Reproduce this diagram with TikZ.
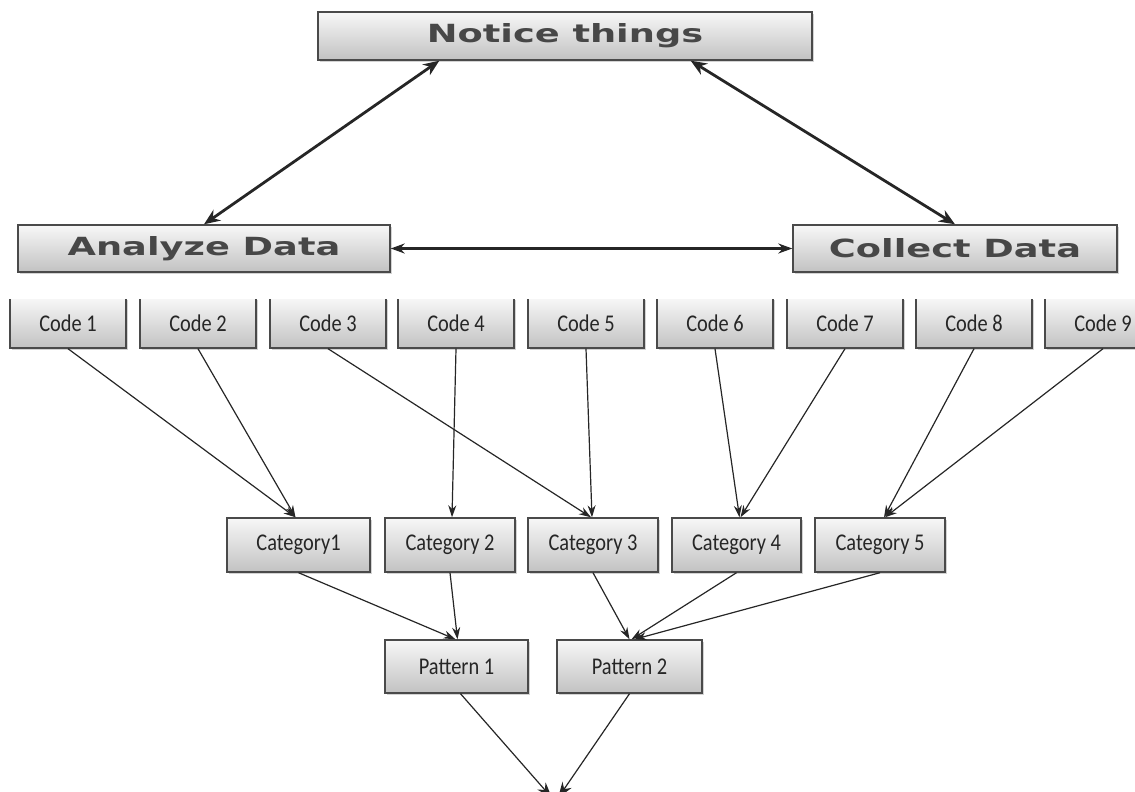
\documentclass[tikz,border=0pt]{standalone}
\usepackage{fontspec}
\usepackage{graphicx}
\usetikzlibrary{arrows.meta,shadows}
\newfontfamily\bigfont{DejaVu Sans Bold}
\newfontfamily\smallfont[FakeStretch=0.85]{Carlito}
\definecolor{boxline}{HTML}{4A4A4A}
\definecolor{boxtext}{HTML}{383838}
\tikzset{
  graybox/.style={draw=boxline, line width=1.4pt, top color=gray!6, bottom color=gray!48,
    drop shadow={shadow xshift=1.5pt, shadow yshift=-2pt, opacity=0.35},
    inner sep=0pt, text=boxtext},
  bigbox/.style={graybox, font=\bigfont\fontsize{25}{28}\selectfont, text=black!72},
  smallbox/.style={graybox, font=\smallfont\fontsize{24}{28}\selectfont, text=black!85},
  bigarrow/.style={{Stealth[length=16pt,width=13pt]}-{Stealth[length=16pt,width=13pt]}, line width=2.8pt, draw=black!85},
  midarrow/.style={{Stealth[length=14pt,width=10pt]}-{Stealth[length=14pt,width=10pt]}, line width=2.2pt, draw=black!85},
  thinarrow/.style={-{Stealth[length=12pt,width=8pt]}, line width=1.2pt, draw=black!85},
}
\begin{document}
\begin{tikzpicture}[x=1pt,y=-1pt]
\useasboundingbox (0,0) rectangle (1135,792);
\clip (0,0) rectangle (1135,792);
% top level
\node[bigbox, minimum width=494pt, minimum height=48pt] (notice) at (565,36) {\scalebox{1.47}[1]{Notice things}};
\node[bigbox, minimum width=372pt, minimum height=47pt] (analyze) at (204,248.5) {\scalebox{1.47}[1]{Analyze Data}};
\node[bigbox, minimum width=324pt, minimum height=47pt] (collect) at (955,248.5) {\scalebox{1.47}[1]{Collect Data}};
% codes (top edge cut off)
\begin{scope}
\clip (0,299.5) rectangle (1135,370);
\node[smallbox, minimum width=116pt, minimum height=50pt] (c1) at (68,323) {Code 1};
\node[smallbox, minimum width=116pt, minimum height=50pt] (c2) at (198,323) {Code 2};
\node[smallbox, minimum width=116pt, minimum height=50pt] (c3) at (328,323) {Code 3};
\node[smallbox, minimum width=116pt, minimum height=50pt] (c4) at (456,323) {Code 4};
\node[smallbox, minimum width=116pt, minimum height=50pt] (c5) at (586,323) {Code 5};
\node[smallbox, minimum width=116pt, minimum height=50pt] (c6) at (715,323) {Code 6};
\node[smallbox, minimum width=116pt, minimum height=50pt] (c7) at (845,323) {Code 7};
\node[smallbox, minimum width=116pt, minimum height=50pt] (c8) at (974,323) {Code 8};
\node[smallbox, minimum width=116pt, minimum height=50pt] (c9) at (1103,323) {Code 9};
\end{scope}
% categories
\node[smallbox, minimum width=143pt, minimum height=54pt] (k1) at (298.5,545) {Category1};
\node[smallbox, minimum width=130pt, minimum height=54pt] (k2) at (450,545) {Category 2};
\node[smallbox, minimum width=130pt, minimum height=54pt] (k3) at (593,545) {Category 3};
\node[smallbox, minimum width=129pt, minimum height=54pt] (k4) at (736.5,545) {Category 4};
\node[smallbox, minimum width=130pt, minimum height=54pt] (k5) at (880,545) {Category 5};
% patterns
\node[smallbox, minimum width=143pt, minimum height=53pt] (p1) at (456.5,666.5) {Pattern 1};
\node[smallbox, minimum width=145pt, minimum height=53pt] (p2) at (629.5,666.5) {Pattern 2};
\coordinate (bottom) at (555,798);
% connectors
\draw[bigarrow] ([xshift=122pt]notice.south west) -- (analyze.north);
\draw[bigarrow] ([xshift=-122pt]notice.south east) -- (collect.north);
\draw[midarrow] (analyze.east) -- (collect.west);
\draw[thinarrow] (c1.south) -- ([xshift=-3pt]k1.north);
\draw[thinarrow] (c2.south) -- ([xshift=-3pt]k1.north);
\draw[thinarrow] (c3.south) -- ([xshift=-2pt]k3.north);
\draw[thinarrow] (c4.south) -- ([xshift=2pt]k2.north);
\draw[thinarrow] (c5.south) -- ([xshift=-1pt]k3.north);
\draw[thinarrow] (c6.south) -- ([xshift=3pt]k4.north);
\draw[thinarrow] (c7.south) -- ([xshift=4pt]k4.north);
\draw[thinarrow] (c8.south) -- ([xshift=4pt]k5.north);
\draw[thinarrow] (c9.south) -- ([xshift=5pt]k5.north);
\draw[thinarrow] (k1.south) -- ([xshift=-1pt]p1.north);
\draw[thinarrow] (k2.south) -- ([xshift=1pt]p1.north);
\draw[thinarrow] (k3.south) -- (p2.north);
\draw[thinarrow] (k4.south) -- ([xshift=2pt]p2.north);
\draw[thinarrow] (k5.south) -- ([xshift=5pt]p2.north);
\draw[thinarrow, -{Stealth[length=16pt,width=11pt]}] ([xshift=4pt]p1.south) -- ([xshift=-3pt]bottom);
\draw[thinarrow, -{Stealth[length=16pt,width=11pt]}] (p2.south) -- ([xshift=3pt]bottom);
\end{tikzpicture}
\end{document}
